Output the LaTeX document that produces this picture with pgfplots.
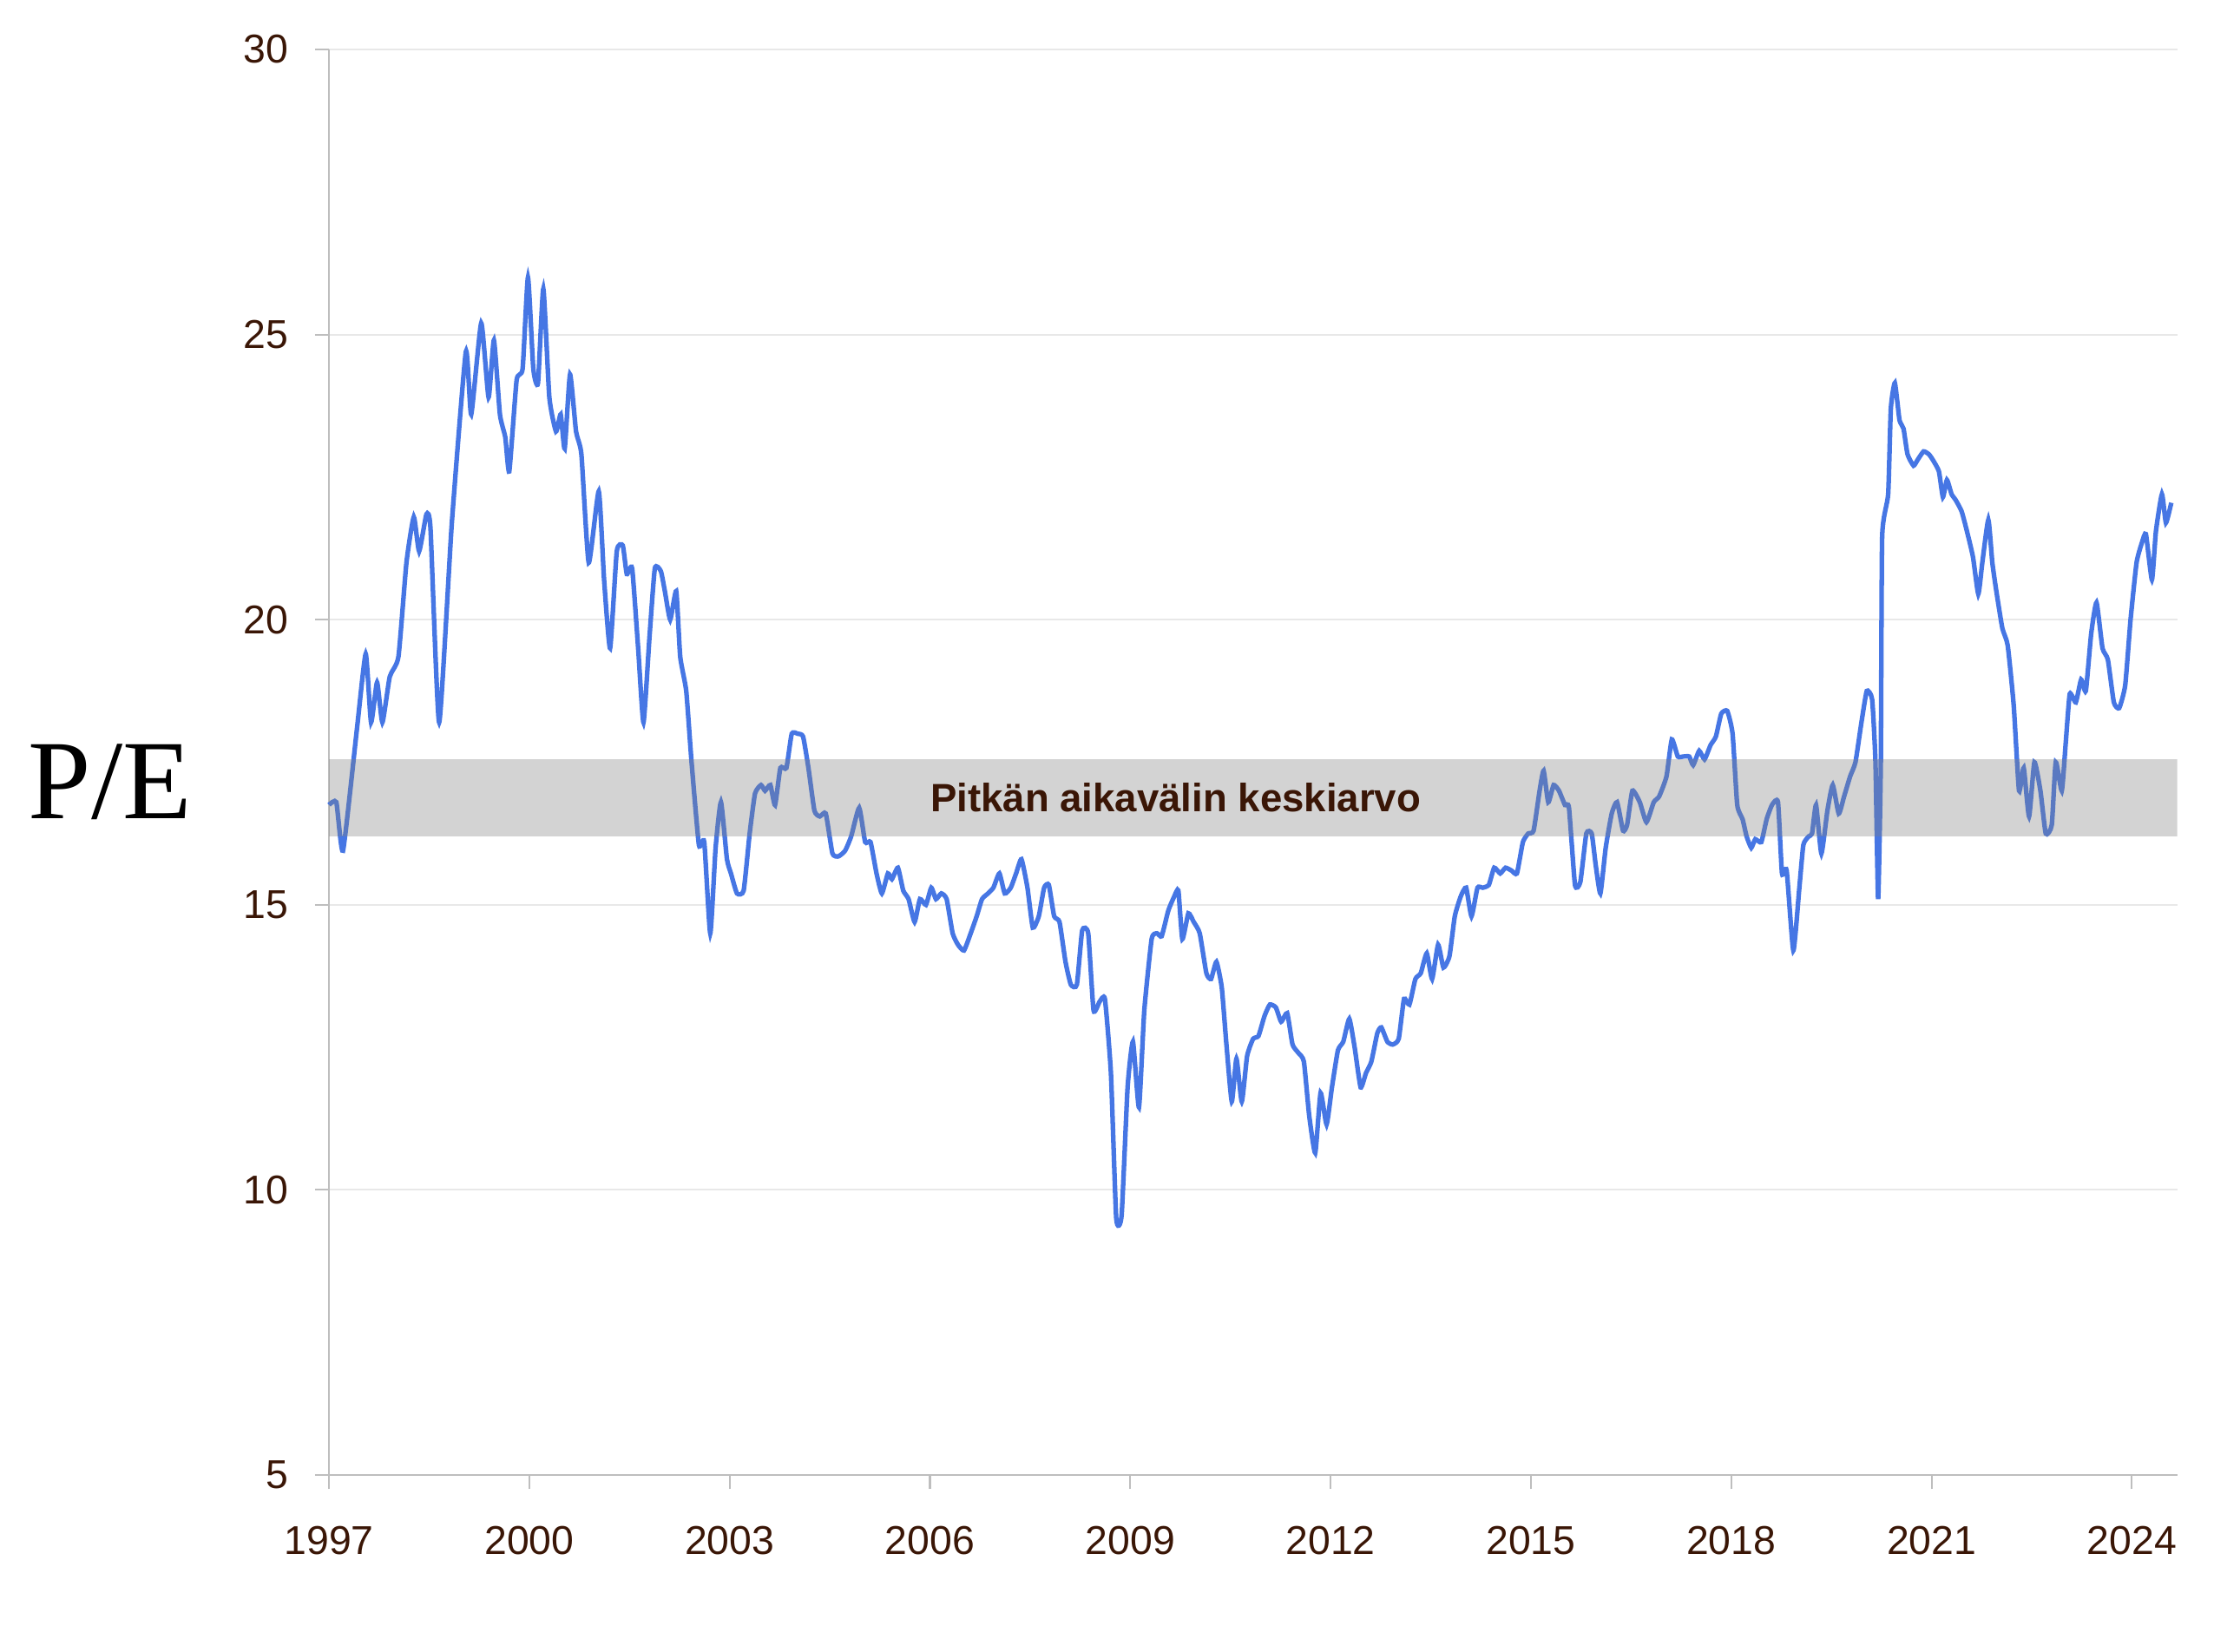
\documentclass[border=0pt]{standalone}
\usepackage{fontspec}
\setmainfont{Liberation Sans}
\newfontfamily\pefont{Liberation Serif}
\usepackage{pgfplots}
\pgfplotsset{compat=1.18}
\definecolor{lineblue}{RGB}{70,118,228}
\definecolor{txtbrown}{RGB}{58,22,6}
\definecolor{axgray}{RGB}{190,190,190}
\definecolor{gridgray}{RGB}{232,232,232}
\begin{document}
\begin{tikzpicture}
\path[use as bounding box] (-93.2pt,-50pt) rectangle (534pt,418pt);
\begin{axis}[
  name=ax, at={(0,0)}, anchor=south west,
  scale only axis, width=523.6pt, height=404pt,
  xmin=1997, xmax=2024.68, ymin=5, ymax=30,
  axis x line*=bottom, axis y line*=left,
  axis line style={axgray, line width=0.6pt},
  xtick={1997,2000,2003,2006,2009,2012,2015,2018,2021,2024},
  xticklabels={1997,2000,2003,2006,2009,2012,2015,2018,2021,2024},
  ytick={5,10,15,20,25,30},
  yticklabels={5,10,15,20,25,30},
  tick align=outside, major tick length=4pt,
  tick style={axgray, line width=0.5pt},
  ymajorgrids, grid style={gridgray, line width=0.5pt},
  ticklabel style={font=\fontsize{11.4}{13}\selectfont, text=txtbrown},
  xticklabel style={yshift=-7pt},
  yticklabel style={xshift=-4pt},
  clip=false,
]
\addplot[lineblue, line width=1.3pt, smooth, tension=0.3] coordinates {
(1997.00,16.75) (1997.11,16.8) (1997.21,15.95) (1997.42,18.1) (1997.55,19.4)
(1997.63,18.2) (1997.72,18.9) (1997.80,18.2) (1997.91,19.0) (1998.04,19.35)
(1998.16,21.0) (1998.27,21.8) (1998.35,21.2) (1998.46,21.85) (1998.52,21.6)
(1998.65,18.2) (1998.84,21.7) (1999.05,24.7) (1999.13,23.6) (1999.28,25.2)
(1999.39,23.9) (1999.47,24.9) (1999.56,23.6) (1999.64,23.2) (1999.70,22.6)
(1999.81,24.2) (1999.90,24.4) (1999.98,26.0) (2000.06,24.4) (2000.13,24.15)
(2000.21,25.8) (2000.30,23.9) (2000.40,23.3) (2000.47,23.6) (2000.53,23.0)
(2000.61,24.3) (2000.70,23.3) (2000.78,22.9) (2000.89,21.0) (2001.04,22.25)
(2001.12,20.7) (2001.21,19.5) (2001.31,21.2) (2001.40,21.3) (2001.46,20.8)
(2001.54,20.9) (2001.63,19.5) (2001.71,18.2) (2001.80,19.7) (2001.88,20.9)
(2001.97,20.85) (2002.03,20.5) (2002.11,20.0) (2002.20,20.5) (2002.26,19.35)
(2002.35,18.75) (2002.43,17.5) (2002.54,16.05) (2002.62,16.1) (2002.71,14.5)
(2002.79,16.0) (2002.87,16.8) (2002.96,15.8) (2003.02,15.55) (2003.11,15.2)
(2003.21,15.25) (2003.30,16.25) (2003.38,16.95) (2003.47,17.1) (2003.53,17.0)
(2003.61,17.1) (2003.68,16.75) (2003.76,17.4) (2003.85,17.4) (2003.93,18.0)
(2004.02,18.0) (2004.10,17.95) (2004.18,17.4) (2004.27,16.65) (2004.35,16.55)
(2004.44,16.6) (2004.54,15.9) (2004.63,15.85) (2004.73,15.95) (2004.82,16.2)
(2004.94,16.7) (2005.03,16.1) (2005.11,16.1) (2005.20,15.55) (2005.28,15.2)
(2005.37,15.55) (2005.43,15.45) (2005.52,15.65) (2005.60,15.25) (2005.68,15.1)
(2005.77,14.7) (2005.85,15.1) (2005.94,15.0) (2006.02,15.3) (2006.09,15.1)
(2006.17,15.2) (2006.25,15.1) (2006.34,14.5) (2006.42,14.3) (2006.51,14.2)
(2006.61,14.5) (2006.70,14.8) (2006.78,15.1) (2006.87,15.2) (2006.95,15.3)
(2007.04,15.55) (2007.12,15.2) (2007.21,15.3) (2007.29,15.55) (2007.37,15.8)
(2007.46,15.3) (2007.54,14.6) (2007.63,14.8) (2007.71,15.3) (2007.78,15.35)
(2007.86,14.8) (2007.94,14.7) (2008.03,14.0) (2008.11,13.6) (2008.20,13.6)
(2008.28,14.55) (2008.37,14.5) (2008.45,13.15) (2008.54,13.3) (2008.62,13.35)
(2008.71,12.05) (2008.79,9.5) (2008.87,9.55) (2008.96,11.8) (2009.04,12.6)
(2009.13,11.45) (2009.21,13.15) (2009.32,14.4) (2009.40,14.5) (2009.47,14.45)
(2009.57,14.9) (2009.66,15.15) (2009.72,15.25) (2009.78,14.4) (2009.87,14.85)
(2009.95,14.7) (2010.04,14.5) (2010.14,13.8) (2010.21,13.7) (2010.29,14.0)
(2010.37,13.55) (2010.44,12.55) (2010.52,11.55) (2010.59,12.3) (2010.67,11.55)
(2010.75,12.35) (2010.84,12.65) (2010.92,12.7) (2011.01,13.05) (2011.09,13.25)
(2011.18,13.2) (2011.26,12.95) (2011.35,13.1) (2011.43,12.55) (2011.52,12.4)
(2011.60,12.25) (2011.68,11.3) (2011.77,10.65) (2011.85,11.7) (2011.94,11.15)
(2012.02,11.8) (2012.11,12.45) (2012.19,12.6) (2012.28,13.0) (2012.36,12.5)
(2012.45,11.8) (2012.53,12.05) (2012.61,12.25) (2012.70,12.75) (2012.76,12.85)
(2012.85,12.6) (2012.93,12.55) (2013.02,12.65) (2013.10,13.35) (2013.18,13.25)
(2013.27,13.7) (2013.35,13.8) (2013.44,14.15) (2013.52,13.7) (2013.61,14.3)
(2013.69,13.9) (2013.78,14.1) (2013.86,14.8) (2013.95,15.15) (2014.03,15.3)
(2014.11,14.8) (2014.20,15.3) (2014.28,15.3) (2014.37,15.35) (2014.45,15.65)
(2014.54,15.55) (2014.62,15.65) (2014.71,15.6) (2014.79,15.55) (2014.88,16.1)
(2014.96,16.25) (2015.04,16.3) (2015.13,17.0) (2015.19,17.35) (2015.26,16.8)
(2015.34,17.1) (2015.42,17.0) (2015.51,16.75) (2015.57,16.7) (2015.66,15.35)
(2015.74,15.4) (2015.83,16.25) (2015.91,16.25) (2015.97,15.7) (2016.04,15.2)
(2016.12,16.0) (2016.21,16.6) (2016.29,16.8) (2016.38,16.3) (2016.44,16.4)
(2016.52,17.0) (2016.63,16.8) (2016.73,16.45) (2016.84,16.8) (2016.92,16.9)
(2017.03,17.25) (2017.11,17.9) (2017.20,17.6) (2017.28,17.6) (2017.37,17.6)
(2017.43,17.45) (2017.52,17.7) (2017.60,17.55) (2017.69,17.8) (2017.77,17.95)
(2017.85,18.35) (2017.94,18.4) (2018.02,18.0) (2018.09,16.75) (2018.17,16.5)
(2018.23,16.2) (2018.30,16.0) (2018.36,16.15) (2018.45,16.1) (2018.53,16.5)
(2018.61,16.75) (2018.70,16.8) (2018.76,15.55) (2018.83,15.6) (2018.93,14.2)
(2019.02,15.3) (2019.08,16.05) (2019.16,16.2) (2019.21,16.25) (2019.27,16.75)
(2019.35,15.9) (2019.44,16.65) (2019.52,17.1) (2019.61,16.6) (2019.69,16.9)
(2019.78,17.25) (2019.86,17.5) (2019.95,18.2) (2020.03,18.75) (2020.11,18.6)
(2020.16,17.5) (2020.20,15.1) (2020.24,17.5) (2020.26,21.45) (2020.35,22.2)
(2020.39,23.7) (2020.45,24.15) (2020.52,23.5) (2020.58,23.35) (2020.64,22.9)
(2020.73,22.7) (2020.79,22.8) (2020.88,22.95) (2020.96,22.9) (2021.02,22.8)
(2021.11,22.6) (2021.17,22.15) (2021.23,22.45) (2021.30,22.2) (2021.36,22.1)
(2021.45,21.9) (2021.53,21.55) (2021.62,21.1) (2021.70,20.45) (2021.76,21.0)
(2021.85,21.75) (2021.91,21.0) (2021.97,20.5) (2022.06,19.85) (2022.14,19.55)
(2022.23,18.5) (2022.31,17.0) (2022.38,17.4) (2022.46,16.55) (2022.54,17.5)
(2022.63,17.0) (2022.71,16.25) (2022.80,16.4) (2022.86,17.5) (2022.95,17.0)
(2023.01,17.85) (2023.07,18.7) (2023.16,18.55) (2023.24,18.95) (2023.31,18.75)
(2023.39,19.75) (2023.47,20.3) (2023.56,19.5) (2023.64,19.3) (2023.73,18.55)
(2023.81,18.45) (2023.90,18.85) (2023.98,20.0) (2024.07,21.0) (2024.15,21.35)
(2024.21,21.5) (2024.30,20.7) (2024.36,21.55) (2024.45,22.2) (2024.51,21.7)
(2024.59,22.05)
};
\addplot[draw=none, fill=gray, fill opacity=0.35] coordinates {
(1997,16.2) (2024.68,16.2) (2024.68,17.55) (1997,17.55) (1997,16.2)
};
\node[text=txtbrown, font=\bfseries\fontsize{11.2}{13}\selectfont] at (axis cs:2009.68,16.88) {Pitkän aikavälin keskiarvo};
\end{axis}
\node[anchor=base, font=\pefont\fontsize{32}{38}\selectfont, text=black] at (-62pt,186pt) {P/E};
\end{tikzpicture}
\end{document}
